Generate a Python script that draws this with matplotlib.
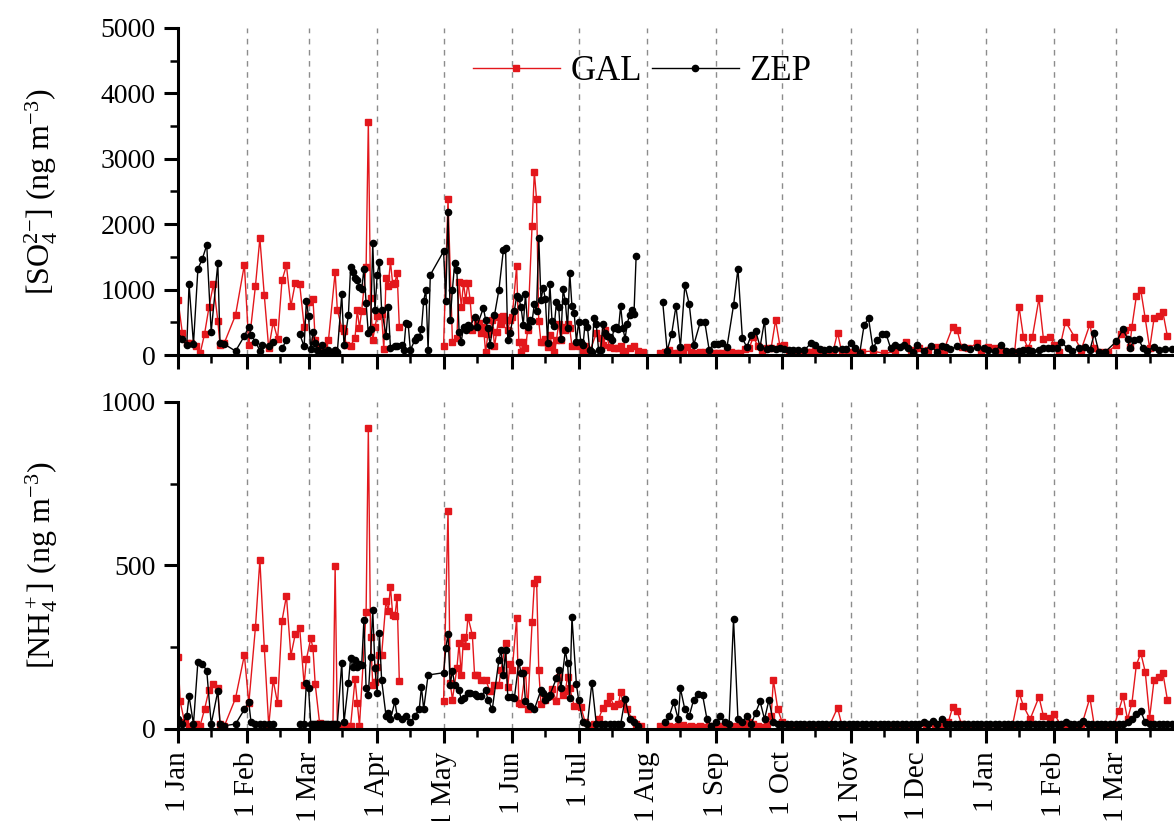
#! /usr/bin/env python
# SO4 and NH4 time series, GAL vs ZEP, two stacked panels

import numpy as np
import matplotlib
matplotlib.use('Agg')
import matplotlib.pyplot as plt
import matplotlib.dates as mdates
from matplotlib.ticker import MultipleLocator

# (days since 1 Jan 2017, value)  -- None breaks the line
gal_so4 = [(0,840),(2,330),(4,180),(6,180),(8,130),(10,25),(12,320),(14,730),(16,1080),(18,525),(19,150),(21,190),
           (26,610),(30,1380),(32,150),(35,1055),(37,1785),(39,910),(41,100),(43,500),(45,250),(47,1140),(49,1370),
           (51,745),(53,1105),(55,1080),(57,435),(59,805),(61,855),(62,230),(64,100),(66,130),(68,230),(71,1265),
           (72,690),(74,410),(75,360),(76,150),(78,140),(80,265),(81,690),(82,410),(83,680),(85,1350),(86,3570),
           (87,870),(88,230),(89,435),(90,590),(92,620),(93,85),(94,1175),(95,1060),(96,1430),(97,1085),(98,1095),
           (99,1260),(100,435),(110,None),(120,140),(122,2380),(124,205),(126,255),(127,1120),(128,740),(129,1100),
           (130,840),(131,1100),(132,840),(133,385),(135,485),(136,485),(137,330),(138,430),(139,40),(140,315),
           (141,380),(142,535),(143,130),(144,355),(145,580),(146,480),(147,590),(148,530),(149,380),(150,533),
           (151,580),(153,1360),(154,200),(155,50),(156,200),(157,100),(158,380),(160,1970),(161,2800),(162,2380),
           (163,520),(164,200),(165,200),(166,250),(167,125),(168,305),(169,150),(170,40),(171,230),(172,480),
           (173,230),(174,430),(175,380),(176,480),(177,410),(178,130),(181,130),(183,80),(184,130),(186,50),
           (189,330),(191,255),(192,150),(193,380),(195,125),(197,100),(199,100),(200,135),(201,60),(202,40),
           (204,100),(206,130),(208,60),(210,40),(214,None),(218,25),(220,50),(222,75),(224,35),(226,25),(228,50),
           (230,125),(232,50),(234,25),(236,50),(238,40),(240,25),(242,25),(244,25),(246,25),(248,50),(250,40),
           (252,25),(254,25),(256,85),(258,100),(260,280),(262,130),(264,50),(266,100),(268,110),(270,533),
           (272,130),(274,150),(276,30),(278,40),(280,20),(282,30),(284,50),(286,40),(288,60),(290,70),(292,30),
           (294,40),(296,60),(298,340),(300,25),(302,30),(305,40),(309,50),(314,60),(319,25),(324,50),(329,200),
           (331,70),(335,100),(339,75),(343,125),(346,75),(350,430),(352,380),(354,125),(357,100),(361,180),
           (363,35),(366,125),(369,100),(372,75),(375,50),(378,50),(380,735),(382,270),(384,100),(386,270),
           (389,865),(391,250),(394,280),(396,150),(398,50),(401,510),(405,280),(408,75),(412,470),(414,100),
           (417,50),(420,50),(424,150),(426,320),(428,380),(430,125),(431,435),(433,900),(435,990),(437,560),
           (439,100),(441,560),(443,595),(445,650),(447,290)]

zep_so4 = [(0,255),(2,245),(4,150),(5,1080),(7,168),(9,1315),(11,1470),(13,1680),(15,355),(18,1400),(19,190),
           (21,165),(26,60),(30,290),(32,435),(33,305),(35,205),(37,65),(38,150),(41,130),(43,205),(45,None),
           (47,100),(49,230),(52,None),(55,320),(57,130),(58,830),(59,590),(60,85),(61,355),(62,190),(63,75),
           (64,25),(65,150),(66,50),(67,35),(68,75),(69,25),(70,50),(71,75),(72,50),(74,930),(75,150),(77,610),
           (78,1350),(79,1275),(80,1170),(81,1150),(82,1045),(83,1005),(84,1315),(85,790),(86,330),(87,395),
           (88,1710),(89,690),(90,1225),(91,1420),(92,690),(94,295),(95,740),(96,100),(98,135),(99,135),(101,150),
           (102,75),(103,485),(104,475),(105,75),(107,230),(108,280),(109,280),(110,395),(111,825),(112,1000),
           (113,75),(114,1225),(120,1585),(121,830),(122,2180),(123,535),(124,1000),(125,1400),(126,1300),
           (127,355),(128,205),(129,435),(130,380),(131,460),(132,435),(134,585),(135,435),(138,720),(139,535),
           (140,410),(141,155),(143,610),(145,995),(147,1600),(148,1640),(149,235),(150,330),(152,680),(153,900),
           (154,865),(155,730),(156,460),(157,930),(158,430),(159,530),(160,520),(161,780),(162,680),(163,1795),
           (164,840),(165,1030),(166,850),(167,190),(168,1090),(169,520),(170,440),(171,810),(172,730),(173,240),
           (174,1010),(175,820),(176,410),(177,1260),(178,745),(179,645),(180,205),(181,510),(182,200),(183,150),
           (184,510),(185,430),(186,75),(187,50),(188,560),(189,470),(190,80),(191,75),(192,480),(193,330),
           (194,290),(195,280),(196,230),(197,410),(198,430),(199,390),(200,750),(201,410),(202,250),(203,480),
           (204,610),(205,685),(206,620),(207,1515),(212,None),(219,810),(221,65),(223,315),(225,750),(227,120),
           (229,1065),(231,775),(233,150),(236,505),(238,505),(240,75),(242,170),(244,170),(246,180),(248,115),
           (251,760),(253,1320),(255,255),(257,120),(259,305),(261,365),(263,125),(265,525),(266,85),(268,100),
           (270,85),(272,100),(274,85),(276,75),(278,75),(280,75),(283,75),(286,180),(288,150),(290,85),(292,75),
           (294,85),(297,85),(300,85),(302,85),(304,190),(306,100),(308,25),(310,460),(312,560),(314,100),
           (316,230),(318,315),(320,315),(322,100),(324,150),(326,125),(328,150),(330,100),(332,50),(334,150),
           (337,65),(340,135),(343,50),(345,135),(347,115),(349,85),(352,135),(355,115),(358,85),(361,115),
           (364,100),(366,75),(369,65),(372,150),(374,65),(377,65),(380,65),(382,75),(384,75),(386,65),(389,75),
           (391,100),(393,100),(395,100),(397,100),(399,200),(402,100),(404,65),(407,100),(410,115),(412,75),
           (414,330),(416,50),(419,50),(424,210),(427,395),(429,240),(430,100),(432,230),(434,250),(436,100),
           (438,65),(441,125),(443,75),(446,90),(449,90)]

gal_nh4 = [(0,220),(1,84),(3,20),(5,10),(8,15),(10,10),(12,60),(14,119),(16,137),(18,124),(19,15),(21,10),
           (26,94),(30,226),(32,78),(35,311),(37,517),(39,249),(41,10),(43,150),(45,78),(47,331),(49,407),
           (51,224),(53,290),(55,308),(57,135),(58,213),(60,277),(61,247),(62,137),(64,17),(66,10),(68,10),
           (70,10),(71,498),(72,10),(74,10),(76,10),(78,10),(80,152),(81,80),(82,10),(85,359),(86,921),(87,282),
           (88,135),(89,145),(90,190),(91,226),(92,226),(94,392),(95,360),(96,435),(97,350),(98,345),(99,403),
           (100,147),(110,None),(120,85),(122,667),(123,140),(124,90),(126,185),(127,262),(128,165),(129,282),
           (130,255),(131,343),(133,287),(134,165),(135,165),(137,150),(139,150),(141,115),(143,135),(145,135),
           (146,180),(148,262),(149,129),(150,199),(151,180),(153,339),(154,80),(155,75),(157,180),(158,60),
           (160,327),(161,445),(162,460),(163,180),(164,75),(166,90),(168,100),(169,121),(171,85),(172,158),
           (174,105),(175,115),(176,160),(177,125),(179,70),(182,68),(184,20),(186,10),(188,15),(190,30),(192,65),
           (194,78),(195,102),(197,70),(199,75),(200,114),(201,80),(203,60),(205,30),(207,15),(209,10),(214,None),
           (218,10),(220,5),(222,10),(224,5),(226,8),(228,12),(230,5),(232,10),(234,5),(236,8),(238,5),(240,10),
           (242,5),(244,8),(246,5),(248,10),(250,5),(252,8),(254,5),(256,10),(258,20),(260,15),(262,10),(264,5),
           (266,15),(268,40),(269,150),(271,60),(273,20),(276,10),(279,8),(282,10),(285,5),(288,10),(291,8),
           (294,5),(298,65),(300,10),(303,8),(306,5),(310,10),(314,8),(318,5),(322,10),(326,8),(330,5),(334,10),
           (338,8),(342,10),(345,15),(348,20),(350,67),(352,55),(354,15),(358,8),(362,10),(366,5),(370,10),
           (374,8),(377,10),(380,110),(382,70),(385,30),(389,98),(391,40),(394,35),(396,45),(399,10),(402,8),
           (405,10),(408,5),(412,95),(414,10),(417,8),(420,10),(423,10),(425,55),(427,100),(429,30),(431,80),
           (433,196),(435,232),(437,175),(439,35),(441,150),(443,158),(445,170),(447,90)]

zep_nh4 = [(0,30),(2,15),(4,40),(5,101),(7,15),(9,206),(11,199),(13,178),(15,15),(18,116),(19,15),(21,10),
           (26,15),(30,60),(32,82),(33,20),(35,15),(37,15),(39,15),(41,15),(43,15),(45,None),(55,15),(57,15),
           (58,140),(59,124),(60,15),(61,15),(62,15),(63,15),(64,15),(65,15),(66,15),(67,15),(68,15),(69,15),
           (70,15),(71,15),(72,15),(74,203),(75,20),(77,140),(78,218),(79,190),(80,210),(81,190),(82,200),
           (83,195),(84,333),(85,125),(86,105),(87,220),(88,364),(89,185),(90,110),(91,292),(92,150),(94,40),
           (95,50),(96,30),(98,84),(99,40),(101,30),(103,40),(105,20),(107,40),(109,60),(110,129),(111,60),
           (113,165),(120,172),(121,247),(122,290),(123,135),(124,178),(125,135),(127,120),(128,90),(129,95),
           (131,110),(132,110),(134,108),(135,100),(137,100),(139,120),(140,90),(142,60),(145,211),(146,242),
           (147,165),(148,240),(149,99),(151,99),(152,95),(154,206),(155,170),(156,170),(157,85),(159,70),
           (161,60),(164,119),(165,109),(166,89),(167,99),(168,104),(171,155),(172,180),(173,124),(175,240),
           (176,201),(177,96),(178,341),(180,137),(181,89),(183,20),(185,15),(187,142),(189,15),(191,15),
           (193,15),(195,15),(197,15),(199,15),(200,15),(202,92),(204,30),(206,20),(208,10),(212,None),(220,20),
           (222,40),(224,82),(226,30),(227,124),(229,60),(231,40),(233,90),(235,107),(237,104),(239,30),(241,10),
           (243,20),(245,40),(247,20),(249,15),(251,335),(253,30),(255,20),(257,40),(259,15),(261,50),(263,84),
           (265,30),(267,89),(269,20),(271,15),(273,15),(275,15),(277,15),(279,15),(281,15),(283,15),(285,15),
           (287,15),(289,15),(291,15),(293,15),(295,15),(297,15),(299,15),(301,15),(303,15),(305,15),(307,15),
           (309,15),(311,15),(313,15),(315,15),(317,15),(319,15),(321,15),(323,15),(325,15),(327,15),(329,15),
           (331,15),(333,15),(335,15),(337,20),(339,15),(341,25),(343,15),(345,30),(347,15),(349,15),(351,15),
           (353,15),(355,15),(357,15),(359,15),(361,15),(363,15),(365,15),(367,15),(369,15),(371,15),(373,15),
           (375,15),(377,15),(379,15),(381,15),(383,15),(385,15),(387,15),(389,15),(391,15),(393,15),(395,15),
           (397,15),(399,15),(401,20),(403,15),(405,15),(407,15),(409,25),(411,15),(413,15),(415,15),(417,15),
           (419,15),(421,15),(423,15),(425,15),(427,15),(429,20),(431,30),(433,45),(435,55),(437,20),(439,15),
           (441,15),(443,15),(445,15),(447,15),(449,15)]

START = np.datetime64('2017-01-01')
END = np.datetime64('2018-03-27')


def to_xy(pairs):
    days = np.array([p[0] for p in pairs], dtype=int)
    vals = np.array([np.nan if p[1] is None else p[1] for p in pairs], dtype=float)
    return (START + days.astype('timedelta64[D]')).astype('datetime64[D]'), vals


plt.rcParams['font.family'] = ['Liberation Serif', 'DejaVu Serif']
plt.rcParams['mathtext.fontset'] = 'custom'
plt.rcParams['mathtext.rm'] = 'Liberation Serif'
plt.rcParams['mathtext.it'] = 'Liberation Serif:italic'

RED = '#e3171c'
fig = plt.figure(figsize=(11.74, 8.21), dpi=100)
ax1 = fig.add_axes([0.1516, 0.5676, 0.8484, 0.3983])
ax2 = fig.add_axes([0.1516, 0.1121, 0.8484, 0.3983])

panels = [(ax1, gal_so4, zep_so4, 5000, 1000, 500, '[SO$_4^{2\\mathrm{-}}$] (ng m$^{\\mathrm{-3}}$)'),
          (ax2, gal_nh4, zep_nh4, 1000, 500, 250, '[NH$_4^+$] (ng m$^{\\mathrm{-3}}$)')]

month_lines = np.arange(np.datetime64('2017-02'), np.datetime64('2018-04'), np.timedelta64(1, 'M')).astype('datetime64[D]')

for ax, gal, zep, ymax, major, minor, ylab in panels:
    for d in month_lines:
        ax.axvline(d, color='#8c8c8c', lw=1.0, ls=(0, (4, 4)), zorder=0)
    gx, gy = to_xy(gal)
    zx, zy = to_xy(zep)
    ax.plot(gx, gy, '-', color=RED, lw=1.0, marker='s', ms=4, mec=RED, mfc=RED, label='GAL')
    ax.plot(zx, zy, '-', color='black', lw=1.0, marker='o', ms=4.5, label='ZEP')

    ax.set_xlim(START, END)
    ax.set_ylim(0, ymax)
    ax.yaxis.set_major_locator(MultipleLocator(major))
    ax.yaxis.set_minor_locator(MultipleLocator(minor))
    ax.xaxis.set_major_locator(mdates.MonthLocator(bymonthday=1))
    ax.xaxis.set_minor_locator(mdates.MonthLocator(bymonthday=16))
    ax.xaxis.set_major_formatter(mdates.DateFormatter('1 %b'))

    for s in ['top', 'right']:
        ax.spines[s].set_visible(False)
    for s in ['left', 'bottom']:
        ax.spines[s].set_linewidth(2.2)
    ax.tick_params(which='major', direction='out', length=10, width=2.2, labelsize=20, pad=6)
    ax.tick_params(which='minor', direction='out', length=6, width=1.8)
    ax.set_ylabel(ylab, fontsize=23)
    ax.yaxis.set_label_coords(-0.118, 0.5)

ax1.tick_params(axis='x', labelbottom=False)
for lab in ax2.get_xticklabels():
    lab.set_rotation(90)
    lab.set_fontsize(21)

ax1.legend(loc='center', bbox_to_anchor=(0.466, 0.868), ncol=2, frameon=False, fontsize=25,
           handlelength=2.5, handletextpad=0.3, columnspacing=0.3, numpoints=1, borderaxespad=0)

fig.savefig('out.png', dpi=100)
